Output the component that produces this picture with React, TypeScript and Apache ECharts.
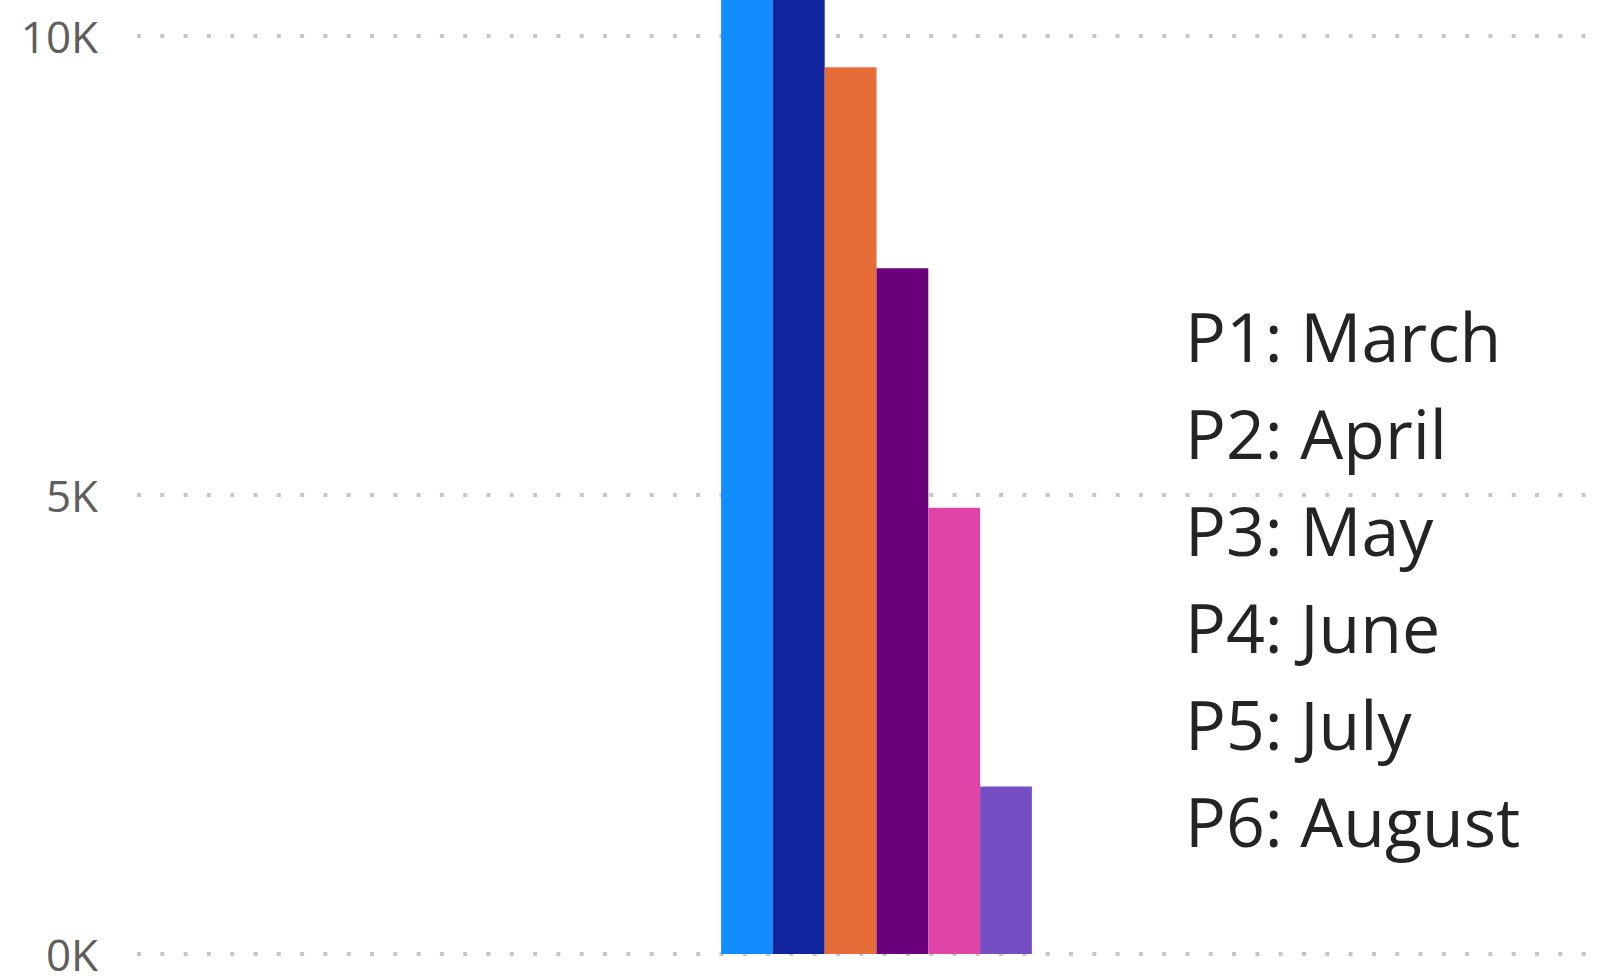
import React, { useEffect, useRef } from "react";
import * as echarts from "echarts";

const categories = [""];
const seriesNames = ["P1: March", "P2: April", "P3: May", "P4: June", "P5: July", "P6: August"];
const seriesValues = [11500, 11200, 9660, 7470, 4860, 1825];
const seriesColors = ["#118DFF", "#12239E", "#E66C37", "#6B007B", "#E044A7", "#744EC2"];
const yTicks = [0, 5000, 10000, 15000];

export default function App() {
  const ref = useRef<HTMLDivElement>(null);
  useEffect(() => {
    if (!ref.current) return;
    const chart = echarts.init(ref.current, null, { renderer: "svg" });
    chart.setOption({
      animation: false,
      backgroundColor: "#ffffff",
      grid: { left: 137, right: 14, top: 77, bottom: 24, containLabel: false },
      legend: {
        show: true,
        orient: "vertical",
        left: 1175,
        top: 782,
        icon: "none",
        itemWidth: 0,
        itemHeight: 10,
        itemGap: 0,
        selectedMode: false,
        data: seriesNames,
        textStyle: {
          fontFamily: "Open Sans",
          fontSize: 68,
          color: "#252423",
          lineHeight: 97,
        },
      },
      xAxis: {
        type: "category",
        data: categories,
        axisLine: { show: false },
        axisTick: { show: false },
        axisLabel: { show: false },
        splitLine: { show: false },
      },
      yAxis: {
        type: "value",
        min: yTicks[0],
        max: yTicks[yTicks.length - 1],
        interval: 5000,
        axisLine: { show: false },
        axisTick: { show: false },
        axisLabel: {
          margin: 39,
          showMaxLabel: false,
          fontFamily: "Open Sans",
          fontSize: 44,
          lineHeight: 40,
          color: "#605E5C",
          formatter: (v: number) => `${Math.round(v / 1000)}K`,
        },
        splitLine: {
          show: true,
          lineStyle: { color: "#C8C6C4", width: 4, type: [4, 19.3] },
        },
      },
      series: seriesNames.map((name, i) => ({
        name,
        type: "bar",
        data: [seriesValues[i]],
        barWidth: 51.8,
        barGap: "0%",
        itemStyle: { color: seriesColors[i] },
      })),
    });
    return () => chart.dispose();
  }, []);
  return (
    <div
      ref={ref}
      style={{ position: "fixed", left: 0, top: -500, width: 1630, height: 1478 }}
    />
  );
}
